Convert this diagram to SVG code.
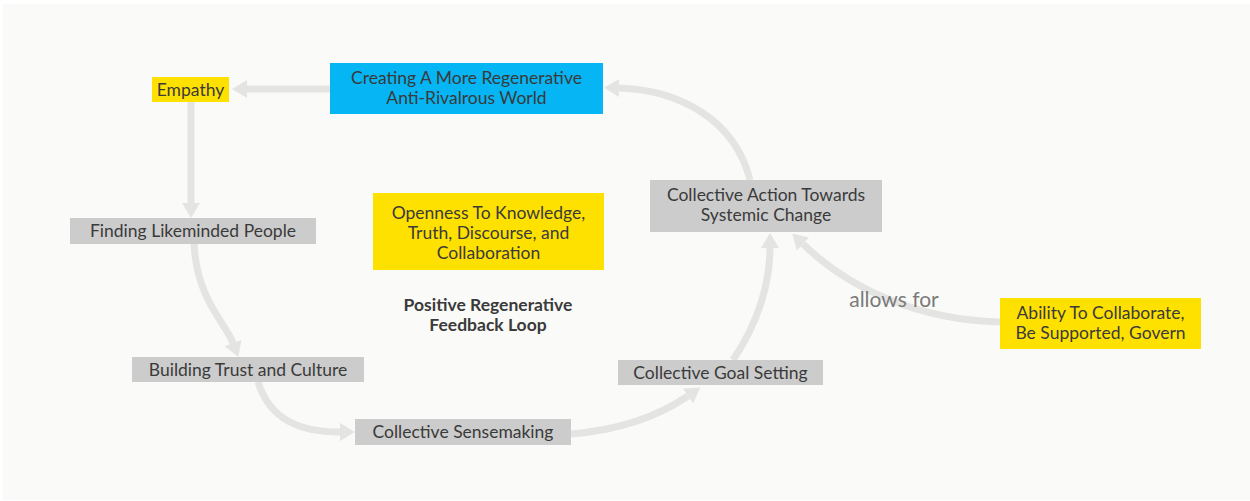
<svg xmlns="http://www.w3.org/2000/svg" width="1250" height="501" viewBox="0 0 1250 501">
<defs>
<style>
.t{font-family:Lato,"Liberation Sans",sans-serif;font-size:17.5px;fill:#3a3a3a;text-anchor:middle}
.b{font-weight:bold;font-size:17.5px}
.g{fill:#cccccc}
.y{fill:#ffe100}
.c{fill:none;stroke:#e4e4e2;stroke-width:7}
</style>
<marker id="ah" markerUnits="userSpaceOnUse" markerWidth="16" markerHeight="18" refX="0" refY="9" orient="auto" viewBox="0 0 16 18">
<path d="M0,0 L15,9 L0,18 z" fill="#e4e4e2"/>
</marker>
</defs>
<rect x="0" y="0" width="1250" height="501" fill="#ffffff"/>
<rect x="3" y="4" width="1247" height="496" fill="#fafaf8"/>
<g id="connectors">
<path class="c" d="M330,89 L247,89" marker-end="url(#ah)"/>
<path class="c" d="M191,102 L191,203" marker-end="url(#ah)"/>
<path class="c" d="M194,244 C197,300 225,322 233,343" marker-end="url(#ah)"/>
<path class="c" d="M258,382 C270,420 300,432 340,432" marker-end="url(#ah)"/>
<path class="c" d="M571,434 C620,430 660,415 688,396" marker-end="url(#ah)"/>
<path class="c" d="M733,360 C760,320 770,280 770,248" marker-end="url(#ah)"/>
<path class="c" d="M750,180 C735,120 680,90 619,88" marker-end="url(#ah)"/>
<path class="c" d="M1000,322 C920,320 850,290 803,244" marker-end="url(#ah)"/>
<text class="t" x="894" y="307" style="font-size:21px;fill:#7a7a7a">allows for</text>
</g>
<g id="empathy"><rect class="y" x="152" y="77" width="77" height="25"/><text class="t" x="190.5" y="96">Empathy</text></g>
<g id="creating"><rect x="330" y="63" width="273" height="51" fill="#06b5f3"/><text class="t" x="466.5" y="84">Creating A More Regenerative</text><text class="t" x="466.5" y="104">Anti-Rivalrous World</text></g>
<g id="finding"><rect class="g" x="70" y="218" width="246" height="26"/><text class="t" x="193" y="237">Finding Likeminded People</text></g>
<g id="building"><rect class="g" x="132" y="357" width="232" height="25"/><text class="t" x="248" y="376">Building Trust and Culture</text></g>
<g id="sensemaking"><rect class="g" x="355" y="419" width="216" height="26"/><text class="t" x="463" y="438">Collective Sensemaking</text></g>
<g id="goal"><rect class="g" x="618" y="360" width="205" height="25"/><text class="t" x="720.5" y="379">Collective Goal Setting</text></g>
<g id="action"><rect class="g" x="650" y="180" width="232" height="52"/><text class="t" x="766" y="201">Collective Action Towards</text><text class="t" x="766" y="221">Systemic Change</text></g>
<g id="openness"><rect class="y" x="373" y="193" width="231" height="77"/><text class="t" x="488.5" y="219">Openness To Knowledge,</text><text class="t" x="488.5" y="239">Truth, Discourse, and</text><text class="t" x="488.5" y="259">Collaboration</text></g>
<g id="ability"><rect class="y" x="1000" y="298" width="201" height="51"/><text class="t" x="1100.5" y="319">Ability To Collaborate,</text><text class="t" x="1100.5" y="339">Be Supported, Govern</text></g>
<g id="loop-label"><text class="t b" x="488" y="311">Positive Regenerative</text><text class="t b" x="488" y="331">Feedback Loop</text></g>
</svg>
